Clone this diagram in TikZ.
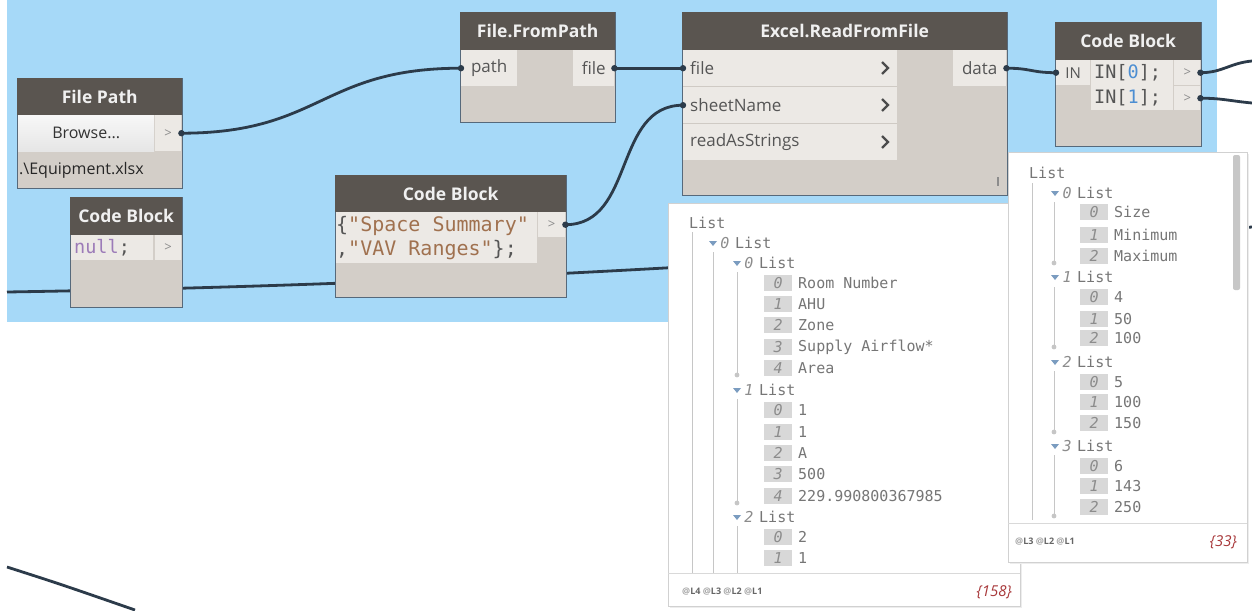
\documentclass[tikz,border=0pt]{standalone}
\usepackage{fontspec}
\setmainfont{Open Sans}
\newfontfamily\monofam{DejaVu Sans Mono}
\usetikzlibrary{calc}

\definecolor{canvasblue}{HTML}{A6D9F8}
\definecolor{hdr}{HTML}{5A5550}
\definecolor{nbody}{HTML}{D3CEC8}
\definecolor{nport}{HTML}{ECE9E5}
\definecolor{nedge}{HTML}{56697B}
\definecolor{wire}{HTML}{2C3B4A}
\definecolor{labtxt}{HTML}{555555}
\definecolor{codedark}{HTML}{555555}
\definecolor{strtxt}{HTML}{A0714F}
\definecolor{kwtxt}{HTML}{9C7BB8}
\definecolor{numtxt}{HTML}{4C8ED2}
\definecolor{watchtxt}{HTML}{767676}
\definecolor{idxfill}{HTML}{D8D8D8}
\definecolor{idxtxt}{HTML}{8C8C8C}
\definecolor{treeline}{HTML}{C6C6C6}
\definecolor{countred}{HTML}{A8383A}
\definecolor{arrowblue}{HTML}{7B9CC0}
\definecolor{rowline}{HTML}{CFCAC4}

\pgfdeclarelayer{canvas}
\pgfdeclarelayer{wires}
\pgfsetlayers{canvas,wires,main}

\newcommand\hdrfont{\fontsize{17.5}{20}\selectfont\bfseries}
\newcommand\labfont{\fontsize{17}{20}\selectfont}
\newcommand\codefnt{\monofam\fontsize{20}{24}\selectfont}
\newcommand\codefns{\monofam\fontsize{18.5}{25}\selectfont}
\newcommand\watchfnt{\monofam\fontsize{15}{18}\selectfont}

% one entry of a watch list: name, index-box x, y, index, value
\newcommand\witem[5]{%
  \node[idxbox] (#1) at (#2,#3) {#4};
  \node[wval] (#1v) at ({#2+34},#3) {#5};}
% a sub-list header: name, arrow x, y, index
\newcommand\wlist[4]{%
  \fill[arrowblue] ({#2-4},{#3-2}) -- ({#2+4},{#3-2}) -- (#2,{#3+3}) -- cycle;
  \node[widx] (#1i) at ({#2+12},#3) {#4};
  \node[wval] (#1) at ({#2+22},#3) {List};}

\begin{document}
\begin{tikzpicture}[x=1pt,y=-1pt,
  nodebody/.style={draw=nedge, line width=1.2pt, fill=nbody, anchor=north west, inner sep=0pt},
  nodehead/.style={fill=hdr, anchor=north west, inner sep=0pt, text=white!94!black, font=\hdrfont},
  portbox/.style={fill=nport, anchor=north west, inner sep=0pt, text=labtxt, font=\labfont},
  arrowport/.style={portbox, font=\fontsize{13}{14}\selectfont, text=black!45},
  codebox/.style={fill=nport, anchor=north west, inner sep=0pt},
  plainlab/.style={anchor=west, inner sep=0pt, text=labtxt, font=\labfont},
  wirestyle/.style={draw=wire, line width=2.8pt},
  portdot/.style={fill=wire},
  watchbox/.style={draw=black!18, line width=0.8pt, fill=white, anchor=north west, inner sep=0pt},
  idxbox/.style={fill=idxfill, anchor=west, inner sep=0pt, minimum width=28pt, minimum height=16pt, text=idxtxt, font=\watchfnt\itshape},
  widx/.style={inner sep=0pt, text=idxtxt, font=\watchfnt\itshape},
  wval/.style={anchor=west, inner sep=0pt, text=watchtxt, font=\watchfnt},
  treel/.style={draw=treeline, line width=1pt},
  treedot/.style={fill=treeline},
  chev/.style={draw=black!70, line width=2.2pt},
  footlab/.style={anchor=west, inner sep=0pt, font=\fontsize{9}{10}\selectfont\bfseries, text=black!60},
  countlab/.style={anchor=east, inner sep=0pt, font=\fontsize{15}{16}\selectfont\itshape, text=countred}
]
\useasboundingbox (0,0) rectangle (1252,610);
\begin{pgfonlayer}{canvas}
\fill[white] (0,0) rectangle (1252,610);
\fill[canvasblue] (7,0) rectangle (1217,322);
\end{pgfonlayer}

% ---------------- nodes ----------------
% File Path
\node[nodebody, minimum width=165pt, minimum height=110pt] (fp) at (17,78) {};
\node[nodehead, minimum width=165pt, minimum height=37pt] (fpt) at (17,78) {File Path};
\node[anchor=north west, inner sep=0pt, minimum width=136pt, minimum height=36pt,
      top color=white!97!black, bottom color=black!10, text=black!80,
      font=\fontsize{16}{18}\selectfont] (fpbrowse) at (18,115) {Browse...};
\node[arrowport, minimum width=26pt, minimum height=36pt] (fpout) at (155,115) {>};
\node[anchor=west, inner sep=0pt, text=black!85, font=\fontsize{16}{18}\selectfont]
      (fpfile) at (19,170) {.\textbackslash Equipment.xlsx};

% Code Block: null
\node[nodebody, minimum width=112pt, minimum height=110pt] (cbn) at (70,197) {};
\node[nodehead, minimum width=112pt, minimum height=38pt] (cbnt) at (70,197) {Code Block};
\node[codebox, minimum width=82pt, minimum height=25pt] (cbncode) at (71,235) {};
\node[anchor=west, inner sep=0pt, font=\codefns] (cbntext) at (74,248)
      {\textcolor{kwtxt}{null}\textcolor{codedark}{;}};
\node[arrowport, minimum width=26pt, minimum height=25pt] (cbnout) at (155,235) {>};

% Code Block: sheet names
\node[nodebody, minimum width=231pt, minimum height=122pt] (cbs) at (335,175) {};
\node[nodehead, minimum width=231pt, minimum height=37pt] (cbst) at (335,175) {Code Block};
\node[codebox, minimum width=201pt, minimum height=51pt] (cbscode) at (336,212) {};
\node[anchor=west, inner sep=0pt, align=left, font=\codefnt] (cbstext) at (336,238)
      {\textcolor{codedark}{\{}\textcolor{strtxt}{"Space Summary"}\\
       \textcolor{codedark}{,}\textcolor{strtxt}{"VAV Ranges"}\textcolor{codedark}{\};}};
\node[arrowport, minimum width=27pt, minimum height=25pt] (cbsout) at (538,212) {>};

% File.FromPath
\node[nodebody, minimum width=155pt, minimum height=110pt] (ffp) at (460,12) {};
\node[nodehead, minimum width=155pt, minimum height=38pt] (ffpt) at (460,12) {File.FromPath};
\node[portbox, minimum width=56pt, minimum height=36pt] (ffpin) at (461,50) {path};
\node[portbox, minimum width=41pt, minimum height=36pt] (ffpout) at (573,50) {file};

% Excel.ReadFromFile
\node[nodebody, minimum width=325pt, minimum height=183pt] (xl) at (682,12) {};
\node[nodehead, minimum width=325pt, minimum height=38pt] (xlt) at (682,12) {Excel.ReadFromFile};
\node[portbox, minimum width=214pt, minimum height=36pt] (xlfile) at (683,50) {};
\node[portbox, minimum width=214pt, minimum height=36pt] (xlsheet) at (683,87) {};
\node[portbox, minimum width=214pt, minimum height=36pt] (xlstr) at (683,124) {};
\draw[rowline, line width=0.8pt] (xlfile.south west) -- (xlfile.south east);
\draw[rowline, line width=0.8pt] (xlsheet.south west) -- (xlsheet.south east);
\node[plainlab] (xlfilel) at (690,68) {file};
\node[plainlab] (xlsheetl) at (690,105) {sheetName};
\node[plainlab] (xlstrl) at (690,142) {readAsStrings};
\foreach \yy in {68,105,142}{\draw[chev] (882,\yy-6) -- (888,\yy) -- (882,\yy+6);}
\node[portbox, minimum width=53pt, minimum height=36pt] (xldata) at (953,50) {data};
\draw[black!45, line width=1.2pt] (998,177) -- (998,186);

% Code Block: IN[0]; IN[1];
\node[nodebody, minimum width=146pt, minimum height=124pt] (cbi) at (1055,22) {};
\node[nodehead, minimum width=146pt, minimum height=38pt] (cbit) at (1055,22) {Code Block};
\node[portbox, minimum width=34pt, minimum height=25pt, font=\fontsize{15}{16}\selectfont] (cbiin) at (1056,60) {IN};
\node[codebox, minimum width=82pt, minimum height=50pt] (cbicode) at (1091,60) {};
\node[anchor=west, inner sep=0pt, align=left, font=\codefns, text=codedark] (cbitext) at (1094,85)
      {IN[\textcolor{numtxt}{0}];\\IN[\textcolor{numtxt}{1}];};
\node[arrowport, minimum width=26pt, minimum height=25pt] (cbio1) at (1174,60) {>};
\node[arrowport, minimum width=26pt, minimum height=24pt] (cbio2) at (1174,86) {>};

% ---------------- wires ----------------
\coordinate (wl) at (7,292);
\coordinate (wr) at (1252,227);
\coordinate (wo1) at (1252,61);
\coordinate (wo2) at (1252,103);
\coordinate (wbl) at (7,567);
\coordinate (wbr) at (135,610);
\begin{pgfonlayer}{wires}
\draw[wirestyle] (fpout.east) .. controls +(140,0) and +(-140,0) .. (ffpin.west);
\draw[wirestyle] (ffpout.east) -- (xlfile.west);
\draw[wirestyle] (cbsout.east) .. controls +(70,0) and +(-70,0) .. (xlsheet.west);
\draw[wirestyle] (wl) .. controls (500,284) and (900,255) .. (wr);
\draw[wirestyle] (xldata.east) .. controls +(25,0) and +(-25,0) .. (cbiin.west);
\draw[wirestyle] (cbio1.east) .. controls +(22,0) and (1230,63) .. (wo1);
\draw[wirestyle] (cbio2.east) .. controls +(22,0) and (1230,101) .. (wo2);
\draw[wirestyle] (wbl) .. controls (60,584) .. (wbr);
\end{pgfonlayer}
\foreach \p in {fpout.east,ffpin.west,ffpout.east,xlfile.west,cbsout.east,xlsheet.west,
                xldata.east,cbiin.west,cbio1.east,cbio2.east}
  {\fill[portdot] (\p) circle (3.2pt);}

% ---------------- watch: data ----------------
\fill[black!7] (670,205) rectangle (1022,608);
\node[watchbox, minimum width=352pt, minimum height=403pt] (wva) at (668,203) {};
\draw[black!15, line width=0.8pt] (668,573) -- (1020,573);
\draw[treel] (692,232) -- (692,573);
\draw[treel] (713,252) -- (713,573);
\draw[treel] (737,272) -- (737,374);
\draw[treel] (737,399) -- (737,502);
\draw[treel] (737,526) -- (737,573);
\fill[treedot] (737,375) circle (2.4pt);
\fill[treedot] (737,503) circle (2.4pt);
\node[wval] (aroot) at (689,223) {List};
\wlist{al0}{713}{243}{0}
\wlist{al00}{737}{263}{0}
\witem{aa0}{764}{283}{0}{Room Number}
\witem{aa1}{764}{304}{1}{AHU}
\witem{aa2}{764}{325}{2}{Zone}
\witem{aa3}{764}{347}{3}{Supply Airflow*}
\witem{aa4}{764}{368}{4}{Area}
\wlist{al01}{737}{390}{1}
\witem{ab0}{764}{410}{0}{1}
\witem{ab1}{764}{432}{1}{1}
\witem{ab2}{764}{453}{2}{A}
\witem{ab3}{764}{474}{3}{500}
\witem{ab4}{764}{496}{4}{229.990800367985}
\wlist{al02}{737}{517}{2}
\witem{ac0}{764}{537}{0}{2}
\witem{ac1}{764}{558}{1}{1}
\node[footlab] (afoot) at (682,592)
  {\textcolor{black!35}{@}L4 \textcolor{black!35}{@}L3 \textcolor{black!35}{@}L2 \textcolor{black!35}{@}L1};
\node[countlab] (acount) at (1012,592) {\{158\}};

% ---------------- watch: sheet ranges ----------------
\fill[black!7] (1010,154) rectangle (1249,564);
\node[watchbox, minimum width=239pt, minimum height=410pt] (wvb) at (1008,152) {};
\draw[black!15, line width=0.8pt] (1008,523) -- (1247,523);
\fill[black!22, rounded corners=2pt] (1233,155) rectangle (1240,290);
\draw[treel] (1032,183) -- (1032,520);
\draw[treel] (1054,202) -- (1054,262);
\draw[treel] (1054,287) -- (1054,346);
\draw[treel] (1054,371) -- (1054,431);
\draw[treel] (1054,455) -- (1054,515);
\foreach \yy in {263,347,432,516}{\fill[treedot] (1054,\yy) circle (2.4pt);}
\node[wval] (broot) at (1029,173) {List};
\wlist{bl0}{1055}{193}{0}
\witem{ba0}{1080}{212}{0}{Size}
\witem{ba1}{1080}{235}{1}{Minimum}
\witem{ba2}{1080}{256}{2}{Maximum}
\wlist{bl1}{1055}{277}{1}
\witem{bb0}{1080}{297}{0}{4}
\witem{bb1}{1080}{319}{1}{50}
\witem{bb2}{1080}{338}{2}{100}
\wlist{bl2}{1055}{362}{2}
\witem{bc0}{1080}{382}{0}{5}
\witem{bc1}{1080}{402}{1}{100}
\witem{bc2}{1080}{423}{2}{150}
\wlist{bl3}{1055}{446}{3}
\witem{bd0}{1080}{466}{0}{6}
\witem{bd1}{1080}{486}{1}{143}
\witem{bd2}{1080}{507}{2}{250}
\node[footlab] (bfoot) at (1015,542)
  {\textcolor{black!35}{@}L3 \textcolor{black!35}{@}L2 \textcolor{black!35}{@}L1};
\node[countlab] (bcount) at (1237,542) {\{33\}};
\end{tikzpicture}
\end{document}
